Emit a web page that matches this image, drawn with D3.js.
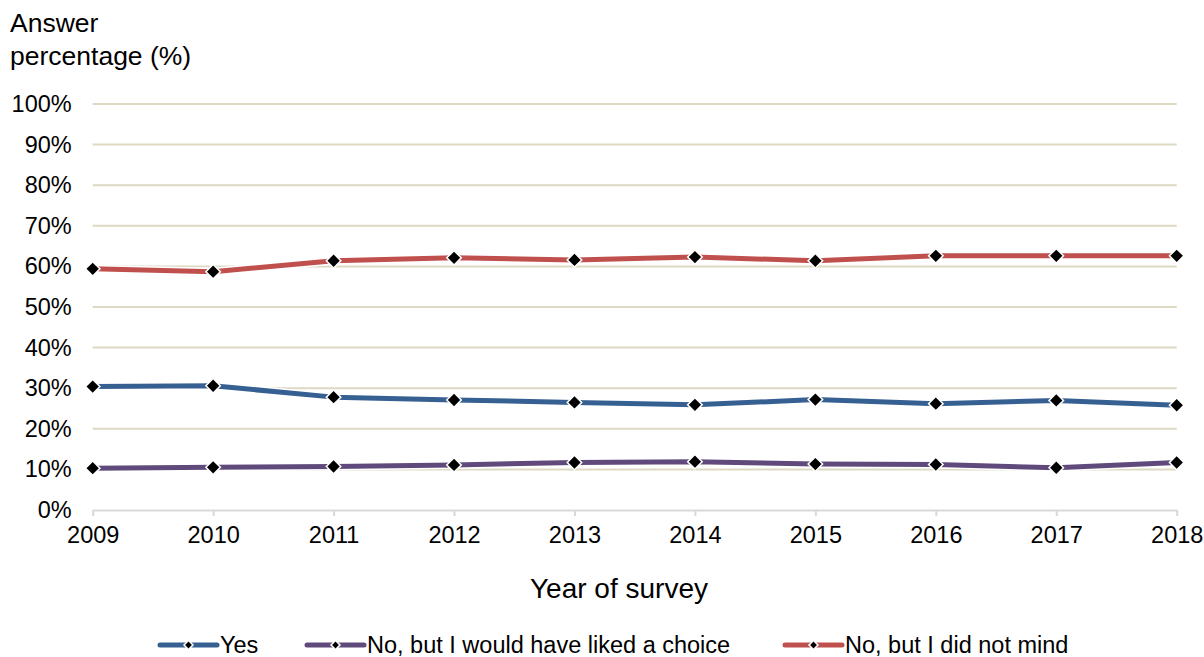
<!DOCTYPE html>
<html>
<head>
<meta charset="utf-8">
<script src="https://cdn.jsdelivr.net/npm/d3@7/dist/d3.min.js"></script>
<style>
  html, body { margin: 0; padding: 0; background: #fff; }
  svg { display: block; font-family: "Liberation Sans", Arial, sans-serif; }
</style>
</head>
<body>
<svg id="chart" width="1204" height="657"></svg>
<script>
// Survey years and answer shares (%)
const years = [2009, 2010, 2011, 2012, 2013, 2014, 2015, 2016, 2017, 2018];
const yesValues = [30.4, 30.6, 27.8, 27.1, 26.5, 25.9, 27.2, 26.2, 27.0, 25.8];
const likedChoiceValues = [10.3, 10.5, 10.7, 11.1, 11.7, 11.9, 11.3, 11.2, 10.4, 11.7];
const didNotMindValues = [59.4, 58.7, 61.4, 62.1, 61.6, 62.3, 61.4, 62.6, 62.6, 62.6];
const seriesNames = ["Yes", "No, but I would have liked a choice", "No, but I did not mind"];
const seriesColors = ["#376092", "#604A7B", "#C0504D"];
const yTicks = [0, 10, 20, 30, 40, 50, 60, 70, 80, 90, 100];

const series = [
  { name: seriesNames[0], color: seriesColors[0], values: yesValues },
  { name: seriesNames[1], color: seriesColors[1], values: likedChoiceValues },
  { name: seriesNames[2], color: seriesColors[2], values: didNotMindValues }
];

const svg = d3.select("#chart");
const plotLeft = 92.7, plotRight = 1176.7, plotTop = 104, plotBottom = 510;
const tickFont = 23.5;

const x = d3.scaleLinear().domain([2009, 2018]).range([plotLeft, plotRight]);
const y = d3.scaleLinear().domain([0, 100]).range([plotBottom, plotTop]);

// Horizontal gridlines
svg.append("g")
  .selectAll("line")
  .data(yTicks.filter(d => d > 0))
  .join("line")
  .attr("x1", plotLeft).attr("x2", plotRight)
  .attr("y1", d => y(d)).attr("y2", d => y(d))
  .attr("stroke", "#DDD9C3").attr("stroke-width", 2);

// Y axis labels
const yAxis = d3.axisLeft(y).tickValues(yTicks).tickFormat(d => d + "%").tickSize(0).tickPadding(0);
const yg = svg.append("g").attr("transform", `translate(${plotLeft - 21},0)`).call(yAxis);
yg.select(".domain").remove();
yg.selectAll("text").attr("font-size", tickFont).attr("fill", "#000")
  .attr("font-family", "Liberation Sans, Arial, sans-serif");

// X axis
const xAxis = d3.axisBottom(x).tickValues(years).tickFormat(d3.format("d")).tickSize(6).tickSizeOuter(0).tickPadding(10);
const xg = svg.append("g").attr("transform", `translate(0,${plotBottom})`).call(xAxis);
xg.select(".domain").attr("stroke", "#D9D9D9").attr("stroke-width", 2);
xg.selectAll(".tick line").attr("stroke", "#D9D9D9").attr("stroke-width", 2);
xg.selectAll("text").attr("font-size", tickFont).attr("fill", "#000")
  .attr("font-family", "Liberation Sans, Arial, sans-serif");

// Axis titles
svg.append("text").attr("x", 10).attr("y", 32).attr("font-size", 26.5).text("Answer");
svg.append("text").attr("x", 10).attr("y", 65).attr("font-size", 26.5).text("percentage (%)");
svg.append("text").attr("x", 619).attr("y", 598).attr("text-anchor", "middle")
  .attr("font-size", 28).text("Year of survey");

// Lines with white halo and diamond markers
const line = d3.line().x((d, i) => x(years[i])).y(d => y(d));

const gSeries = svg.append("g");
series.forEach(s => {
  const g = gSeries.append("g");
  g.append("path").attr("d", line(s.values)).attr("fill", "none")
    .attr("stroke", "#fff").attr("stroke-width", 8).attr("stroke-linejoin", "round");
  g.append("path").attr("d", line(s.values)).attr("fill", "none")
    .attr("stroke", s.color).attr("stroke-width", 5).attr("stroke-linejoin", "round");
});
series.forEach(s => {
  gSeries.append("g").selectAll("path")
    .data(s.values)
    .join("path")
    .attr("transform", (d, i) => `translate(${x(years[i])},${y(d)}) rotate(45)`)
    .attr("d", d3.symbol().type(d3.symbolSquare).size(105))
    .attr("fill", "#000").attr("stroke", "#fff").attr("stroke-width", 1.5);
});

// Legend
const legendX = [160, 307, 785];
const legendY = 645;
const lg = svg.append("g");
series.forEach((s, i) => {
  const g = lg.append("g").attr("transform", `translate(${legendX[i]},${legendY})`);
  g.append("line").attr("x1", 0).attr("x2", 57).attr("y1", 0).attr("y2", 0)
    .attr("stroke", "#fff").attr("stroke-width", 7);
  g.append("line").attr("x1", 0).attr("x2", 57).attr("y1", 0).attr("y2", 0)
    .attr("stroke", s.color).attr("stroke-width", 5).attr("stroke-linecap", "round");
  g.append("path").attr("transform", "translate(28.5,0) rotate(45)")
    .attr("d", d3.symbol().type(d3.symbolSquare).size(40))
    .attr("fill", "#000").attr("stroke", "#fff").attr("stroke-width", 1.5);
  g.append("text").attr("x", 60).attr("y", 0).attr("dy", "0.35em")
    .attr("font-size", tickFont).text(s.name);
});
</script>
</body>
</html>
